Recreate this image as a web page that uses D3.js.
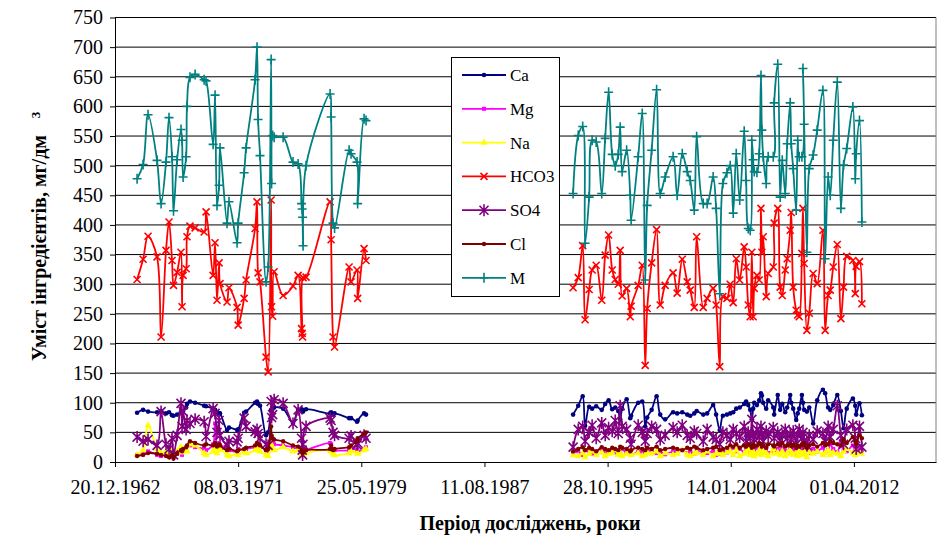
<!DOCTYPE html>
<html><head><meta charset="utf-8">
<script src="https://cdn.jsdelivr.net/npm/d3@7"></script>
<style>body{margin:0;background:#fff}svg{display:block}</style>
</head><body>
<svg id="c" width="943" height="536"></svg>
<script>
// ---------- DATA ----------
const seriesNames = ["Ca","Mg","Na","HCO3","SO4","Cl","M"];
const seriesColors = ["#000080","#FF00FF","#FFFF00","#FF0000","#800080","#800000","#008080"];
const yTicks = [0,50,100,150,200,250,300,350,400,450,500,550,600,650,700,750];
const xTickLabels = ["20.12.1962","08.03.1971","25.05.1979","11.08.1987","28.10.1995","14.01.2004","01.04.2012"];
const yTitle = "Уміст інгредієнтів, мг/дм";
const xTitle = "Період досліджень, роки";

// sampling dates (decimal years), period 1964-1979
const dates1 = [1964.44,1964.84,1965.17,1965.77,1966.04,1966.37,1966.57,1966.77,1966.87,1967.11,
1967.37,1967.44,1967.51,1967.71,1967.77,1967.97,1968.31,1968.91,1969.04,1969.51,
1969.64,1969.77,1969.91,1969.97,1970.44,1970.57,1971.11,1971.18,1971.58,1971.71,
1972.31,1972.44,1972.51,1972.64,1973.04,1973.18,1973.38,1973.41,1973.48,1973.58,
1974.18,1974.84,1975.18,1975.41,1975.45,1975.48,1975.51,1975.71,1977.31,1977.38,
1977.51,1977.61,1978.58,1978.71,1979.11,1979.15,1979.58,1979.71];
// period 1993-2012
const dates2 = [1993.52,1993.86,1994.16,1994.32,1994.59,1994.79,1995.06,1995.43,1995.66,1995.89,
1996.13,1996.33,1996.53,1996.66,1996.79,1997.09,1997.33,1997.39,1997.86,1998.13,
1998.33,1998.46,1998.76,1999.09,1999.33,1999.66,2000.19,2000.46,2000.80,2001.13,
2001.33,2001.60,2001.76,2002.20,2002.46,2002.86,2003.06,2003.30,2003.51,2003.78,
2004.00,2004.20,2004.40,2004.63,2004.93,2005.06,2005.20,2005.33,2005.44,2005.53,
2005.60,2005.78,2005.93,2006.05,2006.11,2006.20,2006.40,2006.53,2006.87,2006.93,
2007.17,2007.33,2007.47,2007.67,2007.80,2008.00,2008.07,2008.20,2008.40,2008.50,
2008.60,2008.78,2008.85,2008.93,2009.11,2009.27,2009.53,2009.80,2010.18,2010.33,
2010.53,2010.67,2010.87,2011.14,2011.38,2011.56,2011.77,2012.18,2012.34,2012.40,
2012.62,2012.78];

const ca1 = [83,88,85,84,86,82,84,79,78,80,85,84,86,92,98,102,100,95,94,90,88,84,82,82,54,58,54,55,83,85,100,102,98,95,45,50,88,86,90,92,90,66,88,89,88,87,85,89,82,84,80,82,74,74,68,70,82,80];
const mg1 = [12,15,18,12,10,14,12,16,10,14,18,12,20,22,25,28,25,22,20,30,65,30,32,28,25,20,18,22,20,22,25,28,30,28,20,18,35,30,32,30,28,25,22,20,18,16,18,20,32,30,22,20,20,22,20,18,22,25];
const na1 = [12,20,62,22,15,18,12,20,14,18,25,16,22,20,18,30,28,15,12,18,25,15,20,22,12,10,14,12,18,15,20,25,22,18,12,10,30,25,22,20,25,18,20,15,12,10,12,15,20,18,14,12,15,18,16,14,20,22];
const hco3_1 = [308,342,381,346,211,357,405,340,298,320,354,262,315,326,380,398,395,388,422,315,370,273,336,301,270,294,261,231,276,307,394,439,319,304,177,152,442,262,246,321,281,297,315,225,217,211,311,312,439,375,211,194,329,304,324,276,360,340];
const so4_1 = [42,35,38,28,85,30,22,40,12,45,99,60,85,55,70,65,72,68,43,90,82,50,70,45,29,35,34,40,74,60,51,55,48,40,30,28,102,75,80,105,99,65,88,40,20,12,30,60,74,70,50,45,40,44,29,32,45,40];
const cl1 = [10,12,15,14,12,10,8,12,6,14,20,18,22,25,28,35,32,28,30,28,32,26,30,28,20,22,18,20,22,24,28,32,30,28,20,22,60,45,40,38,35,28,26,20,18,15,16,20,22,28,20,22,25,28,35,40,48,50];
const m1 = [478,502,586,509,436,506,581,515,424,510,561,543,481,515,600,649,654,645,643,536,619,433,467,530,403,439,370,403,488,530,645,700,578,517,304,329,679,470,551,548,548,506,503,436,427,413,365,500,621,582,403,395,526,520,506,436,579,576];

const ca2 = [80,95,111,61,93,90,94,88,98,104,89,92,86,72,90,106,74,78,100,102,60,75,88,111,80,72,84,82,84,80,78,82,86,80,82,96,80,54,78,80,82,84,90,92,98,102,96,88,72,90,100,96,104,116,112,100,90,104,92,80,113,88,98,84,92,113,100,90,71,82,90,113,100,88,85,92,65,104,122,116,92,88,96,113,86,57,90,107,95,80,99,79];
const mg2 = [15,18,12,20,16,14,18,22,15,17,20,16,14,18,22,15,19,12,17,16,14,20,18,15,17,13,18,16,20,15,17,14,19,16,15,18,12,14,17,16,20,24,18,22,16,25,20,18,15,22,18,24,16,20,22,18,25,15,20,17,22,16,24,19,15,23,18,20,14,22,17,25,19,16,20,15,22,18,24,16,20,30,22,17,35,20,18,28,22,16,25,20];
const na2 = [12,10,15,8,14,18,12,16,10,14,15,20,12,16,10,14,18,12,15,10,12,16,14,18,10,15,12,14,20,12,10,14,16,12,18,10,14,15,12,16,18,12,20,10,14,16,22,12,15,18,10,14,20,16,12,18,15,10,22,14,16,12,18,10,15,20,14,12,16,10,18,14,12,20,8,16,14,18,12,15,20,12,16,14,10,18,22,15,12,20,16,14];
const hco3_2 = [294,311,365,240,291,324,332,273,349,383,324,308,300,357,280,293,245,263,298,332,163,259,336,392,265,298,319,285,342,304,290,261,380,261,276,293,265,161,279,276,300,269,343,307,363,329,265,245,354,245,293,315,307,428,354,380,279,318,329,403,428,295,281,324,343,391,421,295,256,248,245,352,428,335,222,251,318,301,391,222,281,290,329,367,242,295,347,340,284,330,338,267];
const so4_2 = [25,55,60,35,50,62,40,66,45,58,52,70,48,95,60,55,40,30,62,50,35,48,60,55,38,45,58,50,62,45,40,52,48,35,55,42,38,30,50,45,38,55,48,42,60,35,50,40,72,45,38,55,42,60,48,35,52,44,58,40,50,36,45,55,40,48,38,52,30,45,55,40,50,35,28,45,38,52,48,35,60,42,55,95,45,30,55,62,40,22,60,25];
const cl2 = [18,22,25,20,24,22,18,25,22,20,24,22,20,26,24,22,18,20,24,22,20,24,22,26,20,22,24,22,20,24,22,26,24,20,22,24,26,20,22,24,28,26,30,24,28,26,30,28,24,30,26,28,32,30,26,28,24,30,28,26,30,28,32,26,28,30,27,29,24,28,26,30,28,32,24,28,30,26,32,28,30,35,32,30,28,38,32,42,35,30,45,40];
const m2 = [453,551,566,369,447,543,540,453,546,624,519,500,519,565,490,526,450,408,515,588,307,433,526,628,453,481,515,450,520,490,475,425,549,436,436,481,428,284,470,488,500,420,520,442,558,475,394,391,543,510,490,489,520,652,560,515,470,515,515,606,671,447,509,453,537,606,537,495,425,543,515,515,664,570,354,495,518,560,627,343,481,450,543,641,428,501,529,599,478,520,576,405];

const period1 = [ca1,mg1,na1,hco3_1,so4_1,cl1,m1];
const period2 = [ca2,mg2,na2,hco3_2,so4_2,cl2,m2];

// ---------- CHART ----------
const svg = d3.select("#c");
const FONT = "'Liberation Serif','Times New Roman',serif";
const dayMs = 864e5;
const t0 = Date.UTC(1962,11,20);
const x = d3.scaleUtc().domain([new Date(t0), new Date(t0 + 20000*dayMs)]).range([115, 936]);
const y = d3.scaleLinear().domain([0,750]).range([462, 17.5]);

function yearToDate(v){
  const yr = Math.floor(v);
  const a = Date.UTC(yr,0,1), b = Date.UTC(yr+1,0,1);
  return new Date(a + (v-yr)*(b-a));
}

// gridlines
svg.append("g").selectAll("line").data(yTicks.filter(d=>d>0)).join("line")
  .attr("x1",115).attr("x2",936).attr("y1",d=>y(d)).attr("y2",d=>y(d))
  .attr("stroke","#000").attr("stroke-width",1);
// right border
svg.append("line").attr("x1",936).attr("x2",936).attr("y1",y(750)).attr("y2",y(0))
  .attr("stroke","#808080").attr("stroke-width",1);

// axes
const xTickVals = xTickLabels.map((d,i)=>new Date(t0 + i*3000*dayMs));
const gx = svg.append("g").attr("transform",`translate(0,${y(0)})`)
  .call(d3.axisBottom(x).tickValues(xTickVals).tickFormat((d,i)=>xTickLabels[i]).tickSize(5).tickPadding(13).tickSizeOuter(0));
gx.selectAll("text").attr("font-family",FONT).attr("font-size",20).attr("fill","#000");
gx.selectAll("line,path").attr("stroke","#000");

const gy = svg.append("g").attr("transform","translate(115,0)")
  .call(d3.axisLeft(y).tickValues(yTicks).tickSize(5).tickPadding(7).tickSizeOuter(0));
gy.selectAll("text").attr("font-family",FONT).attr("font-size",20).attr("fill","#000");
gy.selectAll("line,path").attr("stroke","#000");

// markers
const markers = {
  Ca: g => g.append("circle").attr("r",2.3).attr("fill","#000080"),
  Mg: g => g.append("rect").attr("x",-2).attr("y",-2).attr("width",4).attr("height",4).attr("fill","#FF00FF"),
  Na: g => g.append("path").attr("d",d3.symbol(d3.symbolTriangle,22)()).attr("fill","#FFFF00"),
  HCO3: g => g.append("path").attr("d","M-3.5,-3.5L3.5,3.5M-3.5,3.5L3.5,-3.5").attr("stroke","#FF0000").attr("stroke-width",1.6).attr("fill","none"),
  SO4: g => g.append("path").attr("d","M-4.5,-4.5L4.5,4.5M-4.5,4.5L4.5,-4.5M0,-6V6").attr("stroke","#800080").attr("stroke-width",1.6).attr("fill","none"),
  Cl: g => g.append("circle").attr("r",2.2).attr("fill","#800000"),
  M: g => g.append("path").attr("d","M-4.5,0H4.5M0,-5V5").attr("stroke","#008080").attr("stroke-width",1.6).attr("fill","none")
};

const line = d3.line().defined(d=>d.v!=null).x(d=>x(d.t)).y(d=>y(d.v)).curve(d3.curveCatmullRom.alpha(0.5));

seriesNames.forEach((name,si)=>{
  const pts = [];
  dates1.forEach((t,i)=>pts.push({t:yearToDate(t), v:period1[si][i]}));
  pts.push({t:yearToDate(1986), v:null});
  dates2.forEach((t,i)=>pts.push({t:yearToDate(t), v:period2[si][i]}));
  const g = svg.append("g");
  g.append("path").datum(pts).attr("d",line).attr("fill","none")
    .attr("stroke",seriesColors[si]).attr("stroke-width",1.8);
  pts.filter(d=>d.v!=null).forEach(d=>{
    const mg = g.append("g").attr("transform",`translate(${x(d.t)},${y(d.v)})`);
    markers[name](mg);
  });
});

// legend
const lg = svg.append("g");
lg.append("rect").attr("x",451.5).attr("y",57.5).attr("width",108).attr("height",239)
  .attr("fill","#fff").attr("stroke","#000").attr("stroke-width",1);
seriesNames.forEach((name,i)=>{
  const yy = 75 + i*33.8;
  lg.append("line").attr("x1",462).attr("x2",506).attr("y1",yy).attr("y2",yy)
    .attr("stroke",seriesColors[i]).attr("stroke-width",1.8);
  const mg = lg.append("g").attr("transform",`translate(484,${yy})`);
  markers[name](mg);
  lg.append("text").attr("x",510).attr("y",yy).attr("dy","0.35em")
    .attr("font-family",FONT).attr("font-size",17).text(name);
});

// titles
svg.append("text").attr("x",530).attr("y",530).attr("text-anchor","middle")
  .attr("font-family",FONT).attr("font-weight","bold").attr("font-size",20)
  .text(xTitle);
svg.append("text").attr("transform","translate(46,248) rotate(-90)")
  .attr("text-anchor","middle").attr("font-family",FONT).attr("font-weight","bold").attr("font-size",20)
  .text(yTitle);
svg.append("text").attr("transform","translate(40,115) rotate(-90)")
  .attr("text-anchor","middle").attr("font-family",FONT).attr("font-weight","bold").attr("font-size",13)
  .text("3");
</script>
</body></html>
